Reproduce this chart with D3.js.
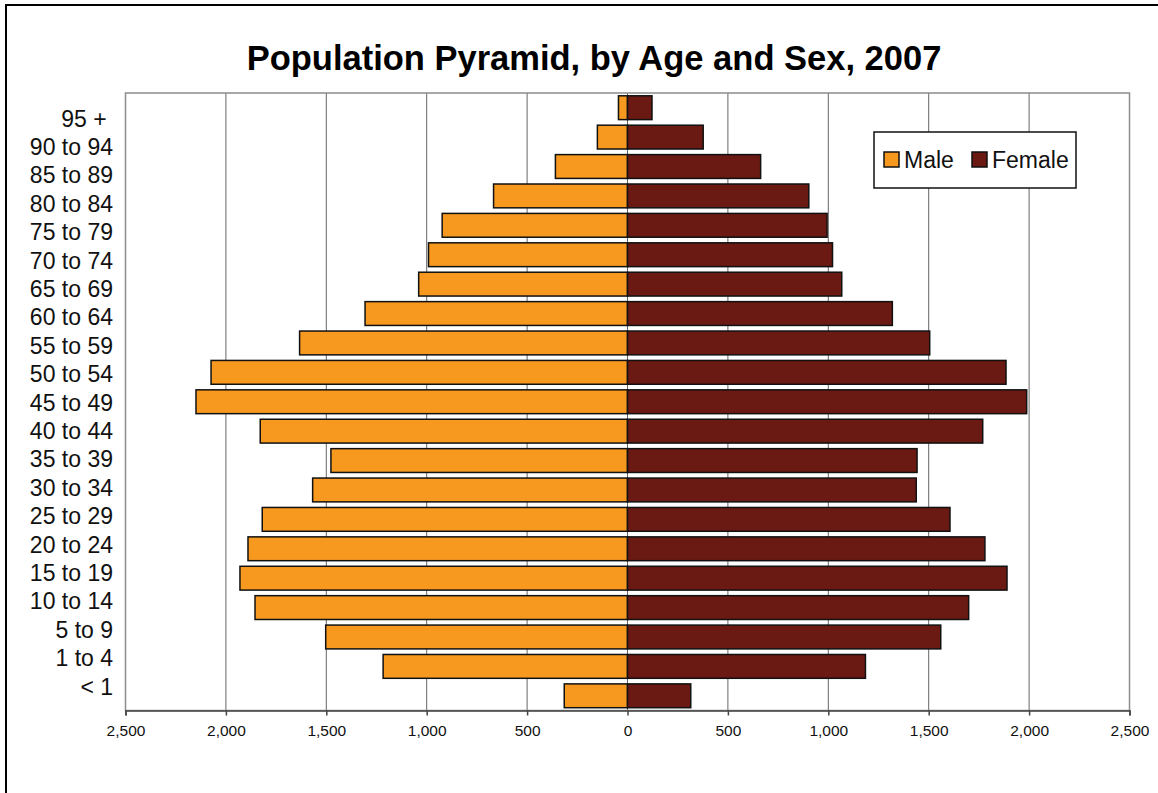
<!DOCTYPE html>
<html>
<head>
<meta charset="utf-8">
<script src="https://cdn.jsdelivr.net/npm/d3@7"></script>
<style>
  body { margin: 0; background: #fff; }
  svg { display: block; font-family: Arial, "Liberation Sans", sans-serif; }
</style>
</head>
<body>
<svg width="1158" height="793"></svg>
<script>
// age groups, top to bottom
var ages = ["95 + ", "90 to 94", "85 to 89", "80 to 84", "75 to 79", "70 to 74", "65 to 69",
  "60 to 64", "55 to 59", "50 to 54", "45 to 49", "40 to 44", "35 to 39", "30 to 34",
  "25 to 29", "20 to 24", "15 to 19", "10 to 14", "5 to 9", "1 to 4", "< 1"];
var male = [45, 150, 359, 667, 923, 991, 1040, 1307, 1633, 2074, 2149, 1829, 1477, 1568,
  1819, 1890, 1930, 1855, 1503, 1217, 315];
var female = [122, 377, 663, 903, 994, 1021, 1067, 1319, 1505, 1885, 1988, 1769, 1442, 1438,
  1606, 1780, 1890, 1699, 1560, 1185, 315];
var tickVals = [-2500, -2000, -1500, -1000, -500, 0, 500, 1000, 1500, 2000, 2500];

var color = {Male: "#F7991F", Female: "#6B1913"};
var svg = d3.select("svg");

// outer frame (right and bottom run off the picture)
svg.append("rect").attr("x", 6).attr("y", 5).attr("width", 1160).attr("height", 800)
  .attr("fill", "none").attr("stroke", "#000").attr("stroke-width", 2);

var pL = 125.5, pR = 1129.5, pT = 93, pB = 710.5;

var x = d3.scaleLinear().domain([-2500, 2500]).range([pL, pR]);
var y = d3.scaleBand().domain(ages).range([pT, pB]).paddingInner(0.19).paddingOuter(0.095);
// category labels are packed a little tighter than the bars
var yLab = d3.scalePoint().domain(ages).range([118.4, 686.4]);

svg.append("text").attr("x", 594).attr("y", 70).attr("text-anchor", "middle")
  .attr("font-size", 34.5).attr("font-weight", "bold")
  .text("Population Pyramid, by Age and Sex, 2007");

// gridlines
svg.append("g").selectAll("line").data(tickVals.slice(1, -1)).join("line")
  .attr("x1", d => x(d)).attr("x2", d => x(d))
  .attr("y1", pT).attr("y2", pB)
  .attr("stroke", "#666").attr("stroke-width", 1);

// plot border
svg.append("rect").attr("x", pL).attr("y", pT).attr("width", pR - pL).attr("height", pB - pT)
  .attr("fill", "none").attr("stroke", "#8c8c8c").attr("stroke-width", 1.5);

// bars
var rows = ages.map((a, i) => ({age: a, m: male[i], f: female[i]}));
var g = svg.append("g");
g.selectAll(".male").data(rows).join("rect").attr("class", "male")
  .attr("x", d => x(-d.m)).attr("width", d => x(0) - x(-d.m))
  .attr("y", d => y(d.age)).attr("height", y.bandwidth())
  .attr("fill", color.Male).attr("stroke", "#111").attr("stroke-width", 1.5);
g.selectAll(".female").data(rows).join("rect").attr("class", "female")
  .attr("x", x(0)).attr("width", d => x(d.f) - x(0))
  .attr("y", d => y(d.age)).attr("height", y.bandwidth())
  .attr("fill", color.Female).attr("stroke", "#111").attr("stroke-width", 1.5);

// category labels
svg.append("g").selectAll("text").data(ages).join("text")
  .attr("x", 113).attr("y", d => yLab(d))
  .attr("dy", "0.36em").attr("text-anchor", "end")
  .attr("font-size", 23).attr("fill", "#111")
  .style("white-space", "pre")
  .text(d => d);

// bottom axis
var axis = d3.axisBottom(x).tickValues(tickVals).tickSize(5).tickPadding(9)
  .tickFormat(d => d3.format(",")(Math.abs(d)));
var ax = svg.append("g").attr("transform", "translate(0," + pB + ")").call(axis);
ax.select(".domain").attr("stroke", "#444").attr("stroke-width", 1.5);
ax.selectAll(".tick line").attr("stroke", "#444").attr("stroke-width", 1.5);
ax.selectAll(".tick text").attr("font-size", 15.5).attr("fill", "#111")
  .attr("font-family", "Arial, 'Liberation Sans', sans-serif");

// legend
var lg = svg.append("g");
lg.append("rect").attr("x", 874).attr("y", 132).attr("width", 202).attr("height", 56)
  .attr("fill", "#fff").attr("stroke", "#111").attr("stroke-width", 1.5);
var items = [{k: "Male", sx: 884, tx: 904}, {k: "Female", sx: 972, tx: 992}];
lg.selectAll(".sw").data(items).join("rect").attr("class", "sw")
  .attr("x", d => d.sx).attr("y", 152).attr("width", 15).attr("height", 15)
  .attr("fill", d => color[d.k]).attr("stroke", "#111").attr("stroke-width", 1.5);
lg.selectAll(".lt").data(items).join("text").attr("class", "lt")
  .attr("x", d => d.tx).attr("y", 160).attr("dy", "0.36em")
  .attr("font-size", 23).attr("fill", "#111")
  .text(d => d.k);
</script>
</body>
</html>
